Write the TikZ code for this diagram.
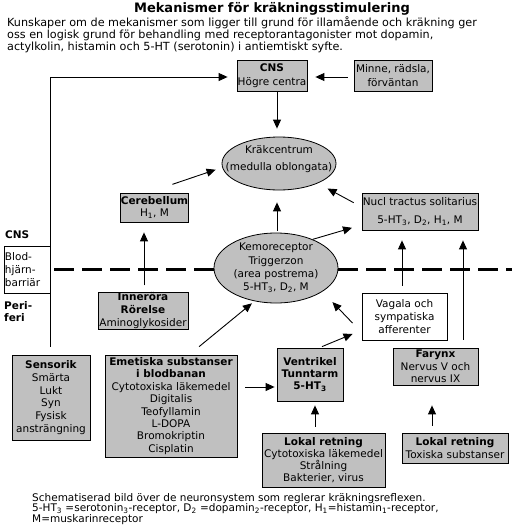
\documentclass[tikz,border=0pt]{standalone}
\usepackage{fontspec}
\setmainfont{DejaVu Sans}
\usetikzlibrary{arrows.meta,shapes.geometric,calc}
\definecolor{boxgrey}{HTML}{C0C0C0}
\newcommand{\fsz}{\fontsize{10.5}{12.5}\selectfont}
\newcommand{\sbs}[1]{\textsubscript{#1}}
\begin{document}
\begin{tikzpicture}[x=1pt,y=-1pt,
  gbox/.style={draw, line width=0.8pt, fill=boxgrey, align=center, inner sep=0pt, font=\fsz},
  wbox/.style={gbox, fill=white},
  gell/.style={ellipse, draw, line width=0.8pt, fill=boxgrey, inner sep=0pt},
  etxt/.style={align=center, inner sep=0pt, font=\fsz},
  arr/.style={line width=0.9pt, -{Triangle[length=9pt,width=8pt]}},
  lbl/.style={inner sep=0pt, align=left, font=\fsz}
]
\useasboundingbox[fill=white] (0,0) rectangle (512,530);

% title and texts
\node[font=\fontsize{13}{15}\selectfont\bfseries, inner sep=0pt] (title) at (272,8.5) {Mekanismer för kräkningsstimulering};
\node[lbl, anchor=north west, font=\fontsize{11.2}{10.6}\selectfont] (intro) at (7,16.3)
  {Kunskaper om de mekanismer som ligger till grund för illamående och kräkning ger\\
   oss en logisk grund för behandling med receptorantagonister mot dopamin,\\
   actylkolin, histamin och 5-HT (serotonin) i antiemtiskt syfte.};
\node[lbl, anchor=north west, font=\fontsize{10.5}{10.8}\selectfont] (foot) at (32,493)
  {Schematiserad bild över de neuronsystem som reglerar kräkningsreflexen.\\
   5-HT\sbs{3} =serotonin\sbs{3}-receptor, D\sbs{2} =dopamin\sbs{2}-receptor, H\sbs{1}=histamin\sbs{1}-receptor,\\
   M=muskarinreceptor};
\node[lbl, anchor=base west, font=\fsz\bfseries] (cnslbl) at (5,238) {CNS};
\node[lbl, anchor=north west, font=\fontsize{10.5}{12}\selectfont\bfseries] (perilbl) at (4,301) {Peri-\\feri};

% boxes
\node[gbox, minimum width=70, minimum height=31] (cns) at (272,75.5) {\textbf{CNS}\\[1.5pt]Högre centra};
\node[gbox, minimum width=78, minimum height=31] (minne) at (393,75.5) {Minne, rädsla,\\[1.5pt]förväntan};
\node[gell, minimum width=114, minimum height=53] (krak) at (279,163.5) {};
\node[etxt] (kraktxt) at ($(krak.center)+(0,-4.5)$) {Kräkcentrum\\[4.5pt](medulla oblongata)};
\node[gbox, minimum width=67, minimum height=29] (cereb) at (154.5,207.5) {\textbf{Cerebellum}\\H\sbs{1}, M};
\node[gbox, minimum width=116, minimum height=37] (nucl) at (420,211.5) {Nucl tractus solitarius\\[5.5pt]5-HT\sbs{3}, D\sbs{2}, H\sbs{1}, M};
\node[gell, minimum width=124, minimum height=70] (kemo) at (276,268) {};
\node[etxt, font=\fontsize{10.5}{13.3}\selectfont] (kemotxt) at (kemo.center) {Kemoreceptor\\Triggerzon\\(area postrema)\\5-HT\sbs{3}, D\sbs{2}, M};
\node[wbox, text width=44, inner xsep=1pt, minimum height=47, align=left, font=\fontsize{10.5}{13}\selectfont] (blod) at (27,269.5) {Blod-\\hjärn-\\barriär};
\node[gbox, minimum width=90, minimum height=36, font=\fontsize{10.5}{13}\selectfont] (inn) at (143,311) {\textbf{Inneröra}\\\textbf{Rörelse}\\Aminoglykosider};
\node[wbox, minimum width=85, minimum height=47, font=\fontsize{10.5}{13}\selectfont] (vag) at (404.5,316.5) {Vagala och\\sympatiska\\afferenter};
\node[gbox, minimum width=78, minimum height=85, font=\fontsize{10.5}{12.8}\selectfont] (sens) at (51,397.5) {\textbf{Sensorik}\\Smärta\\Lukt\\Syn\\Fysisk\\ansträngning};
\node[gbox, minimum width=132, minimum height=102, font=\fontsize{10.5}{12.4}\selectfont] (emet) at (171,406) {\textbf{Emetiska substanser}\\\textbf{i blodbanan}\\Cytotoxiska läkemedel\\Digitalis\\Teofyllamin\\L-DOPA\\Bromokriptin\\Cisplatin};
\node[gbox, minimum width=66, minimum height=53, font=\fontsize{10.5}{12}\selectfont] (vent) at (310,374.5) {\textbf{Ventrikel}\\\textbf{Tunntarm}\\\textbf{5-HT\sbs{3}}};
\node[gbox, minimum width=85, minimum height=37, font=\fontsize{10.5}{12.5}\selectfont] (far) at (435.5,366.5) {\textbf{Farynx}\\Nervus V och\\nervus IX};
\node[gbox, minimum width=123, minimum height=54, font=\fontsize{10.5}{12}\selectfont] (lok1) at (323.5,460) {\textbf{Lokal retning}\\Cytotoxiska läkemedel\\Strålning\\Bakterier, virus};
\node[gbox, minimum width=106, minimum height=30, font=\fontsize{10.5}{12.5}\selectfont] (lok2) at (455,448) {\textbf{Lokal retning}\\Toxiska substanser};

% barrier dashed line
\draw[line width=3pt, dash pattern=on 19.5pt off 8.5pt] ($(kemo.west)+(0,1)$) -- ($(blod.east)+(0,-0.5)$);
\draw[line width=3pt, dash pattern=on 19.5pt off 8.5pt] ($(kemo.east)+(0,1)$) -- (512,269);

% connectors
\draw[arr, shorten <=8pt, shorten >=9pt] ($(sens.north)+(-1,0)$) |- ($(cns.west)+(0,1.5)$);
\draw[arr, shorten <=6pt, shorten >=8pt] ($(minne.west)+(0,1.5)$) -- ($(cns.east)+(0,1.5)$);
\draw[arr, shorten >=8pt] ($(cns.south)+(5,0)$) -- ($(krak.north)+(-2,0)$);
\draw[arr, shorten <=2pt, shorten >=12pt] ($(kemo.north)+(1,0)$) -- ($(krak.south)+(-2,0)$);
\draw[arr, shorten <=25.8pt, shorten >=7pt] ($(cereb.north)+(-6.5,0)$) -- (krak.184);
\draw[arr, shorten >=10pt] (kemo.38) -- ($(nucl.west)+(0,13.5)$);
\draw[arr, shorten <=9pt, shorten >=11pt] ($(nucl.west)+(0,-4.5)$) -- (krak.333);
\draw[arr, shorten <=13pt, shorten >=14.5pt] ($(vag.west)+(0,16)$) -- (kemo.333);
\draw[arr, shorten <=2.6pt, shorten >=9.8pt] ($(vent.north)+(9.6,0)$) -- ($(vag.west)+(0,13.7)$);
\draw[arr, shorten <=12.5pt, shorten >=3.3pt] ($(emet.north)+(18.4,0)$) -- (kemo.237);
\draw[arr, shorten <=8pt, shorten >=2pt] ($(emet.east)+(0,-19)$) -- ($(vent.west)+(0,12.5)$);
\draw[arr, shorten <=7pt, shorten >=10pt] ($(vag.north)+(-2.5,0)$) -- ($(nucl.south)+(-18,0)$);
\draw[arr, shorten <=8pt, shorten >=10pt] ($(far.north)+(27.5,0)$) -- ($(nucl.south)+(43,0)$);
\draw[arr, shorten <=6pt, shorten >=4pt] ($(lok1.north)+(-8.5,0)$) -- ($(vent.south)+(5,0)$);
\draw[arr, shorten <=7pt, shorten >=20pt] ($(lok2.north)+(-23,0)$) -- ($(far.south)+(-3.5,0)$);
\draw[arr, shorten <=7pt, shorten >=10pt] ($(inn.north)+(1,0)$) -- ($(cereb.south)+(-10.5,0)$);
\end{tikzpicture}
\end{document}
